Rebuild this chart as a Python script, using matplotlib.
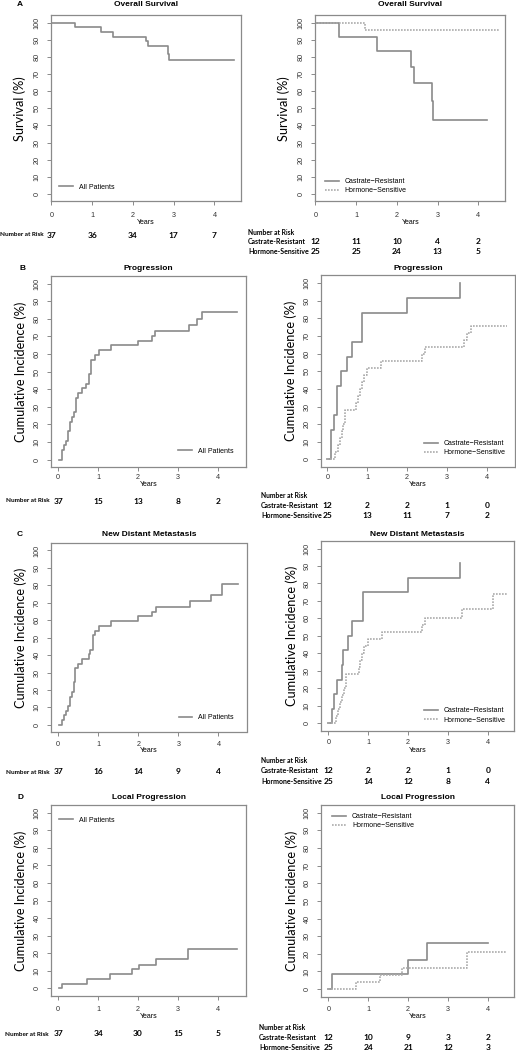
import matplotlib
matplotlib.use("Agg")
import matplotlib.pyplot as plt
import matplotlib.transforms as mtransforms

# ---- data ----
years = [0, 1, 2, 3, 4]

# Overall survival (%)
os_all_t = [0, 0.57, 1.21, 1.52, 2.32, 2.36, 2.85, 2.88, 4.47]
os_all_y = [100, 97.3, 94.6, 91.9, 89.2, 86.1, 81.5, 78.2, 78.2]
os_cr_t = [0, 0.57, 1.52, 2.34, 2.41, 2.85, 2.88, 4.21]
os_cr_y = [100, 91.7, 83.3, 74.1, 64.8, 54.0, 43.2, 43.2]
os_hs_t = [0, 1.21, 4.5]
os_hs_y = [100, 96, 96]

# Progression, cumulative incidence (%)
prog_all_t = [0.02, 0.10, 0.15, 0.20, 0.25, 0.30, 0.35, 0.40, 0.45, 0.50, 0.60, 0.70,
              0.77, 0.83, 0.92, 1.02, 1.32, 2.0, 2.35, 2.43, 3.28, 3.47, 3.6, 4.48]
prog_all_y = [0, 5.4, 8.1, 10.8, 16.2, 21.6, 24.3, 27.0, 35.1, 37.8, 40.5, 43.2,
              48.6, 56.8, 59.5, 62.2, 64.9, 67.6, 70.3, 73.0, 76.5, 79.9, 83.9, 83.9]
prog_cr_t = [0.0, 0.10, 0.17, 0.25, 0.35, 0.50, 0.62, 0.88, 2.0, 3.32]
prog_cr_y = [0, 16.7, 25.0, 41.7, 50.0, 58.3, 66.7, 83.3, 91.7, 100]
prog_hs_t = [0.0, 0.20, 0.27, 0.32, 0.37, 0.40, 0.45, 0.73, 0.78, 0.82, 0.87, 0.92,
             1.0, 1.35, 2.38, 2.45, 3.43, 3.50, 3.6, 4.5]
prog_hs_y = [0, 4, 8, 12, 16, 20, 28, 32, 36, 40, 44, 48,
             52, 56, 60, 64, 68, 71.5, 75.5, 75.5]

# New distant metastasis
met_all_t = [0.02, 0.10, 0.15, 0.20, 0.25, 0.30, 0.35, 0.40, 0.43, 0.50, 0.60, 0.77,
             0.80, 0.87, 0.92, 1.02, 1.32, 2.0, 2.35, 2.43, 3.28, 3.82, 4.10, 4.48]
met_all_y = [0, 2.7, 5.4, 8.1, 10.8, 16.2, 18.9, 24.3, 32.4, 35.1, 37.8, 40.5,
             43.2, 51.4, 54.1, 56.8, 59.5, 62.2, 64.9, 67.6, 71.0, 74.7, 80.6, 80.6]
met_cr_t = [0.0, 0.10, 0.13, 0.22, 0.33, 0.37, 0.50, 0.60, 0.87, 2.0, 3.31]
met_cr_y = [0, 8.3, 16.7, 25.0, 33.3, 41.7, 50.0, 58.3, 75.0, 83.3, 91.7]
met_hs_t = [0.0, 0.20, 0.25, 0.30, 0.35, 0.38, 0.43, 0.77, 0.80, 0.85, 0.90, 1.0,
            1.34, 2.36, 2.43, 3.36, 4.13, 4.49]
met_hs_y = [0, 4, 8, 12, 16, 20, 28, 32, 36, 40, 44, 48,
            52, 56, 60, 65.6, 74, 74]

# Local progression
loc_all_t = [0.02, 0.10, 0.73, 1.30, 1.85, 2.03, 2.45, 3.25, 4.48]
loc_all_y = [0, 2.7, 5.4, 8.1, 10.8, 13.5, 16.5, 22.5, 22.5]
loc_cr_t = [0.0, 0.10, 2.0, 2.48, 4.0]
loc_cr_y = [0, 8.3, 16.7, 26.3, 26.3]
loc_hs_t = [0.0, 0.70, 1.29, 1.84, 3.48, 4.49]
loc_hs_y = [0, 4, 8, 12, 21.3, 21.3]

# Numbers at risk
os_risk_all = [37, 36, 34, 17, 7]
os_risk_cr = [12, 11, 10, 4, 2]
os_risk_hs = [25, 25, 24, 13, 5]
prog_risk_all = [37, 15, 13, 8, 2]
prog_risk_cr = [12, 2, 2, 1, 0]
prog_risk_hs = [25, 13, 11, 7, 2]
met_risk_all = [37, 16, 14, 9, 4]
met_risk_cr = [12, 2, 2, 1, 0]
met_risk_hs = [25, 14, 12, 8, 4]
loc_risk_all = [37, 34, 30, 15, 5]
loc_risk_cr = [12, 10, 9, 3, 2]
loc_risk_hs = [25, 24, 21, 12, 3]

titles = ["Overall Survival", "Progression", "New Distant Metastasis", "Local Progression"]
letters = ["A", "B", "C", "D"]
ylabels = ["Survival (%)", "Cumulative Incidence (%)", "Cumulative Incidence (%)",
           "Cumulative Incidence (%)"]
lab_all = "All Patients"
lab_cr = "Castrate\u2212Resistant"
lab_hs = "Hormone\u2212Sensitive"

# ---- styling ----
W, H = 516, 1050
GREY = "#8a8a8a"
DOT = "#ababab"
SANS = ["Liberation Sans", "DejaVu Sans"]
CAL = ["Lato", "DejaVu Sans"]

fig = plt.figure(figsize=(W / 100, H / 100), dpi=100)


def add_box(l, t, r, b):
    return fig.add_axes([l / W, 1 - b / H, (r - l) / W, (b - t) / H])


def fy(py):
    return 1 - py / H


def style(ax, xlim, xpad):
    ax.set_xlim(*xlim)
    ax.set_ylim(-4.3, 104.3)
    ax.set_xticks(years)
    ax.set_yticks(range(0, 101, 10))
    for s in ax.spines.values():
        s.set_color(GREY)
        s.set_linewidth(0.9)
    ax.tick_params(axis="both", length=3, width=0.7, color=GREY, labelsize=5.2,
                   labelcolor="#333333")
    ax.tick_params(axis="x", pad=xpad)
    ax.tick_params(axis="y", pad=4.5, labelrotation=90)
    for lab in ax.get_xticklabels() + ax.get_yticklabels():
        lab.set_family(SANS)
    for lab in ax.get_yticklabels():
        lab.set_va("center")


def legend(ax, handles, x, y):
    ax.legend(handles=handles, loc="center left", bbox_to_anchor=(x, y), frameon=False,
              borderpad=0, borderaxespad=0, handlelength=2.0, handletextpad=0.85,
              labelspacing=0.3, prop={"family": SANS, "size": 5.0})


def risk_row(ax, label, counts, lx, py, lsize=4.6):
    tr = mtransforms.blended_transform_factory(ax.transData, fig.transFigure)
    fig.text(lx / W, fy(py), label, family=CAL, fontsize=lsize, fontweight="bold",
             ha="left", va="center")
    for x, n in zip(years, counts):
        ax.text(x, fy(py), str(n), transform=tr, family=CAL, fontsize=6.0,
                fontweight="bold", ha="center", va="center")


# layout: left/right boxes per row (pixel coordinates)
rows = [
    dict(L=(51.3, 15.3, 241, 201.3), R=(315.3, 15.3, 505.3, 201.3), xlimL=(0, 4.65),
         xlimR=(0, 4.66), title_y=4, xpad=4.5, years_y=222),
    dict(L=(51.3, 276, 246, 467.3), R=(321.3, 275.5, 514.5, 467), xlimL=(-0.17, 4.70),
         xlimR=(-0.15, 4.69), title_y=268, xpad=2.0, years_y=485),
    dict(L=(51.3, 543, 246.5, 732.3), R=(321.3, 541, 514, 730.7), xlimL=(-0.17, 4.70),
         xlimR=(-0.18, 4.66), title_y=534.7, xpad=3.0, years_y=750),
    dict(L=(51.3, 805, 246, 996), R=(321.3, 805, 514, 996.7), xlimL=(-0.17, 4.70),
         xlimR=(-0.18, 4.66), title_y=797.7, xpad=4.0, years_y=1016),
]

curves_all = [(os_all_t, os_all_y), (prog_all_t, prog_all_y), (met_all_t, met_all_y),
              (loc_all_t, loc_all_y)]
curves_cr = [(os_cr_t, os_cr_y), (prog_cr_t, prog_cr_y), (met_cr_t, met_cr_y),
             (loc_cr_t, loc_cr_y)]
curves_hs = [(os_hs_t, os_hs_y), (prog_hs_t, prog_hs_y), (met_hs_t, met_hs_y),
             (loc_hs_t, loc_hs_y)]
risk_all = [os_risk_all, prog_risk_all, met_risk_all, loc_risk_all]
risk_cr = [os_risk_cr, prog_risk_cr, met_risk_cr, loc_risk_cr]
risk_hs = [os_risk_hs, prog_risk_hs, met_risk_hs, loc_risk_hs]

leg_left = [(0.042, 0.075), (0.652, 0.084), (0.652, 0.077), (0.040, 0.921)]
leg_right = [(0.050, 0.080), (0.530, 0.098), (0.531, 0.080), (0.056, 0.915)]
ylab_x = [(20, 284), (21, 291), (21, 292), (21, 292)]
risk_left_y = [235, 501, 772, 1034]
risk_left_x = [0, 6, 6, 5]
risk_right_y = [(232, 242, 252), (496, 505.7, 516), (760.7, 770.7, 781), (1028, 1037.7, 1047)]
risk_right_x = [248, 261, 261, 259]
letter_x = [20, 23, 20, 20]

for i, row in enumerate(rows):
    axL = add_box(*row["L"])
    axR = add_box(*row["R"])
    style(axL, row["xlimL"], row["xpad"])
    style(axR, row["xlimR"], row["xpad"])

    hA, = axL.step(*curves_all[i], where="post", color=GREY, lw=1.2, label=lab_all)
    hC, = axR.step(*curves_cr[i], where="post", color=GREY, lw=1.2, label=lab_cr)
    hH, = axR.step(*curves_hs[i], where="post", color=DOT, lw=1.2, ls=(0, (1, 0.8)),
                   label=lab_hs)
    legend(axL, [hA], *leg_left[i])
    legend(axR, [hC, hH], *leg_right[i])

    for ax, box, yx in ((axL, row["L"], ylab_x[i][0]), (axR, row["R"], ylab_x[i][1])):
        cx = (box[0] + box[2]) / 2
        cy = (box[1] + box[3]) / 2
        fig.text(cx / W, fy(row["title_y"]), titles[i], family=SANS, fontsize=6.0,
                 fontweight="bold", ha="center", va="center")
        fig.text(cx / W, fy(row["years_y"]), "Years", family=SANS, fontsize=5.0,
                 ha="center", va="center")
        fig.text(yx / W, fy(cy), ylabels[i], family=CAL, fontsize=9.2, rotation=90,
                 ha="center", va="center")

    fig.text(letter_x[i] / W, fy(row["title_y"]), letters[i], family=SANS, fontsize=6.0,
             fontweight="bold", ha="center", va="center")

    # numbers at risk
    risk_row(axL, "Number at Risk", risk_all[i], risk_left_x[i], risk_left_y[i])
    ry = risk_right_y[i]
    fig.text(risk_right_x[i] / W, fy(ry[0]), "Number at Risk", family=CAL, fontsize=4.9,
             fontweight="bold", ha="left", va="center")
    risk_row(axR, "Castrate-Resistant", risk_cr[i], risk_right_x[i], ry[1], lsize=5.0)
    risk_row(axR, "Hormone-Sensitive", risk_hs[i], risk_right_x[i], ry[2], lsize=5.0)

fig.savefig("out.png", dpi=100, facecolor="white")
